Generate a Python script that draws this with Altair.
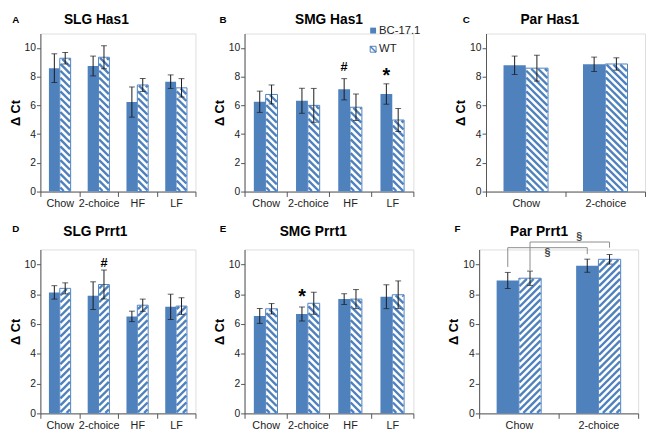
import json
import altair as alt
import pandas as pd

BLUE = "#4F81BD"
ERR = "#1a1a1a"
AXIS = "#555555"
FONT = "Liberation Sans"

CATS4 = ["Chow", "2-choice", "HF", "LF"]
CATS2 = ["Chow", "2-choice"]
GROUPS = ["BC-17.1", "WT"]

# ---- values (mean, error) ----
A_bc = [8.59, 8.74, 6.23, 7.65]
A_bc_err = [1.00, 0.69, 1.05, 0.47]
A_wt = [9.28, 9.35, 7.42, 7.22]
A_wt_err = [0.40, 0.80, 0.45, 0.64]

B_bc = [6.25, 6.32, 7.12, 6.79]
B_bc_err = [0.74, 0.87, 0.74, 0.71]
B_wt = [6.76, 6.00, 5.87, 4.98]
B_wt_err = [0.66, 1.18, 0.92, 0.80]

C_bc = [8.79, 8.86]
C_bc_err = [0.64, 0.50]
C_wt = [8.59, 8.88]
C_wt_err = [0.90, 0.43]

D_bc = [8.12, 7.90, 6.51, 7.15]
D_bc_err = [0.45, 0.93, 0.35, 0.85]
D_wt = [8.39, 8.65, 7.26, 7.20]
D_wt_err = [0.37, 0.97, 0.41, 0.56]

E_bc = [6.54, 6.67, 7.67, 7.83]
E_bc_err = [0.50, 0.47, 0.36, 0.80]
E_wt = [7.02, 7.39, 7.67, 7.96]
E_wt_err = [0.35, 0.74, 0.64, 0.93]

F_bc = [8.92, 9.91]
F_bc_err = [0.54, 0.44]
F_wt = [9.07, 10.34]
F_wt_err = [0.48, 0.32]

# significance markers: (category index, group index, symbol, y)
B_marks = [(2, 0, "#", 8.7), (3, 0, "*", 8.05)]
D_marks = [(1, 1, "#", 10.1)]
E_marks = [(1, 0, "*", 7.78)]

# brackets in F: (from cat, from group, to cat, to group, left end, top, right end)
F_brackets = [(0, 0, 1, 0, 9.83, 11.12, 10.69), (0, 1, 1, 1, 9.61, 11.5, 11.12)]
F_bracket_labels = [(0.86, 10.78, "§"), (1.26, 11.82, "§")]

BAR_W = 0.28
HATCH_PERIOD = 7.0
HATCH_WIDTH = 2.4
W4A, W4B, W2 = 158, 172, 162
H1, H2 = 161, 167
TITLE_Y1 = -14
TITLE_Y2 = -18


def hatch_rows(x0, x1, top, sx, sy, direction):
    ins = 0.6
    w = (x1 - x0) * sx - 2 * ins
    h = top * sy - 2 * ins
    ox = x0 + ins / sx
    oy = ins / sy
    out = []
    if direction == "\\":
        c = HATCH_PERIOD / 2
        while c < w + h:
            xa, xb = max(0.0, c - h), min(w, c)
            if xb - xa > 0.3:
                out.append({"xa": ox + xa / sx, "ya": oy + (c - xa) / sy,
                            "xb": ox + xb / sx, "yb": oy + (c - xb) / sy})
            c += HATCH_PERIOD
    else:
        c = -w + HATCH_PERIOD / 2
        while c < h:
            xa, xb = max(0.0, -c), min(w, h - c)
            if xb - xa > 0.3:
                out.append({"xa": ox + xa / sx, "ya": oy + (xa + c) / sy,
                            "xb": ox + xb / sx, "yb": oy + (xb + c) / sy})
            c += HATCH_PERIOD
    return out


def make_panel(letter, title, cats, bc, bce, wt, wte, width, height, hdir,
               title_dx, title_y, letter_x, letter_y, marks=None, brackets=None,
               bracket_labels=None, legend=False):
    n = len(cats)
    rows = []
    for i, c in enumerate(cats):
        ctr = i + 0.5
        for g, m, e, x0, x1 in ((GROUPS[0], bc[i], bce[i], ctr - BAR_W, ctr),
                                (GROUPS[1], wt[i], wte[i], ctr, ctr + BAR_W)):
            rows.append({"cat": c, "group": g, "x0": x0, "x1": x1,
                         "xc": (x0 + x1) / 2, "mean": m, "lo": m - e,
                         "hi": m + e, "zero": 0.0})
    df = pd.DataFrame(rows)

    xs = alt.Scale(domain=[0, n], nice=False, zero=False)
    ys = alt.Scale(domain=[0, 11], nice=False)
    lab = json.dumps(cats)
    xaxis = alt.Axis(
        values=[k / 2 for k in range(2 * n + 1)],
        labelExpr=f"datum.value % 1 == 0 ? '' : {lab}[floor(datum.value)]",
        tickOpacity={"condition": {"test": "datum.value % 1 == 0", "value": 1}, "value": 0},
        title=None, grid=False, tickSize=5, labelPadding=1, labelOverlap=False,
        labelFlush=False, labelFontSize=11, labelColor="#222222",
        domainColor=AXIS, tickColor=AXIS)
    yaxis = alt.Axis(
        values=[0, 2, 4, 6, 8, 10], title="Δ Ct", grid=False, tickSize=4,
        labelPadding=1, labelFontSize=10.5, labelColor="#222222",
        titleFontSize=13, titleFontWeight="bold", titleColor="black",
        titlePadding=2, domainColor=AXIS, tickColor=AXIS)

    def X(f):
        return alt.X(f, type="quantitative", scale=xs, axis=xaxis)

    def Y(f):
        return alt.Y(f, type="quantitative", scale=ys, axis=yaxis)

    base = alt.Chart(df)
    bc_df = base.transform_filter(alt.datum.group == GROUPS[0])
    wt_df = base.transform_filter(alt.datum.group == GROUPS[1])

    bc_bars = bc_df.mark_rect(fill=BLUE).encode(x=X("x0"), x2="x1", y=Y("mean"), y2="zero")
    wt_fill = wt_df.mark_rect(fill="white").encode(x=X("x0"), x2="x1", y=Y("mean"), y2="zero")

    sx = width / n
    sy = height / 11
    hrows = []
    for i in range(n):
        ctr = i + 0.5
        hrows += hatch_rows(ctr, ctr + BAR_W, wt[i], sx, sy, hdir)
    hatch = alt.Chart(pd.DataFrame(hrows)).mark_rule(
        color=BLUE, strokeWidth=HATCH_WIDTH, strokeCap="butt").encode(
        x=X("xa"), x2="xb", y=Y("ya"), y2="yb")
    wt_line = wt_df.mark_rect(fillOpacity=0, stroke=BLUE, strokeWidth=1).encode(
        x=X("x0"), x2="x1", y=Y("mean"), y2="zero")

    err = base.mark_rule(color=ERR, strokeWidth=1).encode(x=X("xc"), y=Y("lo"), y2="hi")
    cap_lo = base.mark_tick(orient="horizontal", size=6, thickness=1, color=ERR).encode(x=X("xc"), y=Y("lo"))
    cap_hi = base.mark_tick(orient="horizontal", size=6, thickness=1, color=ERR).encode(x=X("xc"), y=Y("hi"))

    layers = [bc_bars, wt_fill, hatch, wt_line, err, cap_lo, cap_hi]

    if marks:
        mrows = []
        for ci, gi, sym, yv in marks:
            ctr = ci + 0.5
            xc = ctr - BAR_W / 2 if gi == 0 else ctr + BAR_W / 2
            mrows.append({"xm": xc, "ym": yv, "sym": sym,
                          "fs": 20 if sym == "*" else 13})
        mdf = pd.DataFrame(mrows)
        layers.append(alt.Chart(mdf).mark_text(fontWeight="bold", baseline="middle", color="black").encode(
            x=X("xm"), y=Y("ym"), text="sym:N", size=alt.Size("fs:Q", scale=None, legend=None)))

    if brackets:
        brows = []
        for fc, fg, tc, tg, le, top, re_ in brackets:
            xl = fc + 0.5 + (-BAR_W / 2 if fg == 0 else BAR_W / 2)
            xr = tc + 0.5 + (-BAR_W / 2 if tg == 0 else BAR_W / 2)
            brows.append({"bx": xl, "bx2": xr, "by": top, "by2": top})
            brows.append({"bx": xl, "bx2": xl, "by": le, "by2": top})
            brows.append({"bx": xr, "bx2": xr, "by": re_, "by2": top})
        layers.append(alt.Chart(pd.DataFrame(brows)).mark_rule(color="#8c8c8c", strokeWidth=1).encode(
            x=X("bx"), x2="bx2", y=Y("by"), y2="by2"))
        ldf = pd.DataFrame([{"lx": a, "ly": b, "lt": t} for a, b, t in bracket_labels])
        layers.append(alt.Chart(ldf).mark_text(fontSize=11, fontWeight="bold", color="#444444", baseline="middle").encode(
            x=X("lx"), y=Y("ly"), text="lt:N"))

    head_df = pd.DataFrame({"letter": [letter], "title": [title]})
    layers.append(alt.Chart(head_df).mark_text(fontSize=10, fontWeight="bold", color="black", align="center", baseline="middle").encode(
        x=alt.value(letter_x), y=alt.value(letter_y), text="letter:N"))
    layers.append(alt.Chart(head_df).mark_text(fontSize=14, fontWeight="bold", color="black", align="center", baseline="middle").encode(
        x=alt.value(width / 2 + title_dx), y=alt.value(title_y), text="title:N"))

    if legend:
        leg_df = pd.DataFrame({"name": GROUPS})
        lx, ly1, ly2 = 131, -3, 16
        layers.append(alt.Chart(leg_df).transform_filter(alt.datum.name == GROUPS[0]).mark_rect(fill=BLUE).encode(
            x=alt.value(lx - 3), x2=alt.value(lx + 3), y=alt.value(ly1 - 3), y2=alt.value(ly1 + 3)))
        layers.append(alt.Chart(leg_df).transform_filter(alt.datum.name == GROUPS[1]).mark_rect(fill="white", stroke=BLUE, strokeWidth=1).encode(
            x=alt.value(lx - 3), x2=alt.value(lx + 3), y=alt.value(ly2 - 3), y2=alt.value(ly2 + 3)))
        layers.append(alt.Chart(leg_df).transform_filter(alt.datum.name == GROUPS[1]).mark_rule(color=BLUE, strokeWidth=1.6).encode(
            x=alt.value(lx - 3), x2=alt.value(lx + 3), y=alt.value(ly2 - 3), y2=alt.value(ly2 + 3)))
        layers.append(alt.Chart(leg_df).transform_filter(alt.datum.name == GROUPS[0]).mark_text(fontSize=11.5, align="left", baseline="middle", color="#222222").encode(
            x=alt.value(lx + 6), y=alt.value(ly1), text="name:N"))
        layers.append(alt.Chart(leg_df).transform_filter(alt.datum.name == GROUPS[1]).mark_text(fontSize=11.5, align="left", baseline="middle", color="#222222").encode(
            x=alt.value(lx + 6), y=alt.value(ly2), text="name:N"))

    return alt.layer(*layers).properties(width=width, height=height)


pA = make_panel("A", "SLG Has1", CATS4, A_bc, A_bc_err, A_wt, A_wt_err, W4A, H1, "\\", -22, TITLE_Y1, -25, TITLE_Y1)
pB = make_panel("B", "SMG Has1", CATS4, B_bc, B_bc_err, B_wt, B_wt_err, W4B, H1, "\\", 0, TITLE_Y1, -22, TITLE_Y1,
                marks=B_marks, legend=True)
pC = make_panel("C", "Par Has1", CATS2, C_bc, C_bc_err, C_wt, C_wt_err, W2, H1, "\\", -16, TITLE_Y1, -20, TITLE_Y1)
pD = make_panel("D", "SLG Prrt1", CATS4, D_bc, D_bc_err, D_wt, D_wt_err, W4A, H2, "/", -23, TITLE_Y2, -25, TITLE_Y2 - 3,
                marks=D_marks)
pE = make_panel("E", "SMG Prrt1", CATS4, E_bc, E_bc_err, E_wt, E_wt_err, W4B, H2, "\\", -16, TITLE_Y2, -22, TITLE_Y2 - 3,
                marks=E_marks)
pF = make_panel("F", "Par Prrt1", CATS2, F_bc, F_bc_err, F_wt, F_wt_err, W2, H2, "/", -20, TITLE_Y2, -22, TITLE_Y2 - 3,
                brackets=F_brackets, bracket_labels=F_bracket_labels)

row1 = alt.hconcat(alt.hconcat(pA, pB, spacing=16), pC, spacing=33)
row2 = alt.hconcat(alt.hconcat(pD, pE, spacing=16), pF, spacing=33)

chart = alt.vconcat(row1, row2, spacing=14).properties(padding=0).configure_view(
    stroke=None).configure(font=FONT)

chart.save("out.html", embed_options={"renderer": "svg", "actions": False})
